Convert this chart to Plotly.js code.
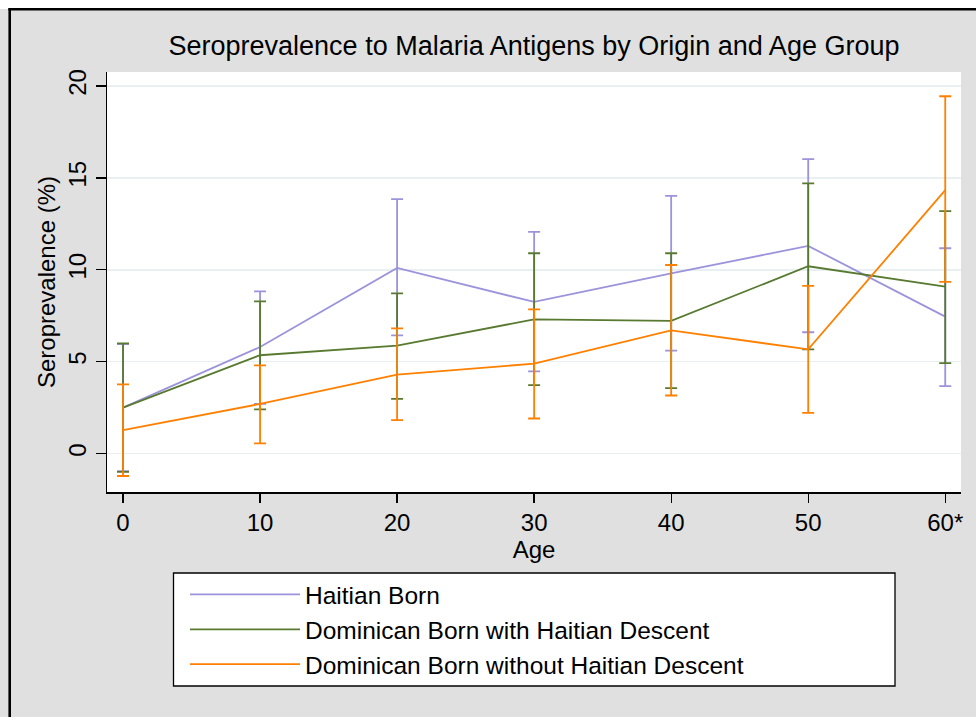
<!DOCTYPE html>
<html>
<head>
<meta charset="utf-8">
<script src="https://cdn.plot.ly/plotly-3.0.1.min.js"></script>
<style>html,body{margin:0;padding:0;background:#fff;}#chart{width:976px;height:717px;}</style>
</head>
<body>
<div id="chart"></div>
<script>
// ---- data ----
const ages = [0, 10, 20, 30, 40, 50, 60];
const ageTickText = ["0", "10", "20", "30", "40", "50", "60*"];
const seriesNames = ["Haitian Born", "Dominican Born with Haitian Descent", "Dominican Born without Haitian Descent"];
const seriesColors = ["#9b93dc", "#587a30", "#ff8000"];

const haitianBorn      = [2.5, 5.8, 10.1, 8.25, 9.8, 11.3, 7.45];
const haitianBornLow   = [-0.95, 2.7, 6.43, 4.47, 5.6, 6.6, 3.67];
const haitianBornHigh  = [5.95, 8.83, 13.84, 12.06, 14.02, 16.02, 11.17];

const domWithDesc      = [2.5, 5.35, 5.87, 7.3, 7.22, 10.19, 9.08];
const domWithDescLow   = [-1.0, 2.4, 2.98, 3.72, 3.56, 5.67, 4.92];
const domWithDescHigh  = [6.0, 8.28, 8.72, 10.9, 10.9, 14.7, 13.19];

const domWithoutDesc     = [1.28, 2.7, 4.3, 4.89, 6.7, 5.67, 14.33];
const domWithoutDescLow  = [-1.22, 0.56, 1.82, 1.91, 3.16, 2.22, 9.34];
const domWithoutDescHigh = [3.76, 4.8, 6.81, 7.85, 10.26, 9.12, 19.44];

const centers = [haitianBorn, domWithDesc, domWithoutDesc];
const lows = [haitianBornLow, domWithDescLow, domWithoutDescLow];
const highs = [haitianBornHigh, domWithDescHigh, domWithoutDescHigh];

const FONT = "Liberation Sans, Arial, sans-serif";

const traces = centers.map((c, i) => ({
  type: "scatter",
  mode: "lines",
  name: seriesNames[i],
  x: ages,
  y: c,
  line: {color: seriesColors[i], width: 1.8},
  error_y: {
    type: "data",
    symmetric: false,
    array: highs[i].map((h, k) => h - c[k]),
    arrayminus: c.map((v, k) => v - lows[i][k]),
    color: seriesColors[i],
    thickness: 1.8,
    width: 6
  }
}));

// pixel -> paper helpers for layout decorations
const L = 107, R = 15, T = 72, B = 225, W = 976, H = 717;
const pw = W - L - R, ph = H - T - B;
const px = v => (v - L) / pw;
const py = v => (H - B - v) / ph;

const layout = {
  width: W, height: H,
  margin: {l: L, r: R, t: T, b: B},
  paper_bgcolor: "#e0e0e0",
  plot_bgcolor: "#ffffff",
  font: {family: FONT, size: 24, color: "#000"},
  title: {
    text: "Seroprevalence to Malaria Antigens by Origin and Age Group",
    font: {family: FONT, size: 27, color: "#000"},
    x: 0.5, xref: "paper", xanchor: "center",
    y: 1 - 46 / H, yref: "container", yanchor: "middle"
  },
  xaxis: {
    range: [-1.17, 61.15],
    tickvals: ages,
    ticktext: ageTickText,
    ticks: "outside", ticklen: 9, tickwidth: 1.3, tickcolor: "#000",
    showline: true, linecolor: "#000", linewidth: 1.5,
    showgrid: false, zeroline: false,
    tickfont: {family: FONT, size: 24},
    title: {text: "Age", font: {family: FONT, size: 24}, standoff: 0}
  },
  yaxis: {
    range: [-2.09, 20.76],
    tickvals: [0, 5, 10, 15, 20],
    tickangle: -90,
    ticks: "outside", ticklen: 10, tickwidth: 1.3, tickcolor: "#000",
    showline: true, linecolor: "#000", linewidth: 1.5,
    showgrid: true, gridcolor: "#e9f0f1", gridwidth: 1.6,
    zeroline: false,
    tickfont: {family: FONT, size: 24},
    title: {text: "Seroprevalence (%)", font: {family: FONT, size: 24}, standoff: 1}
  },
  showlegend: true,
  legend: {
    x: px(185), y: py(572), xanchor: "left", yanchor: "top",
    bgcolor: "rgba(0,0,0,0)", borderwidth: 0,
    font: {family: FONT, size: 24.5},
    itemwidth: 110,
    tracegroupgap: 0,
    traceorder: "normal"
  },
  shapes: [
    // white strip above the frame
    {type: "rect", xref: "paper", yref: "paper", x0: px(-5), x1: px(990), y0: py(9), y1: py(-5),
     fillcolor: "#ffffff", line: {width: 0}, layer: "below"},
    // outer frame lines
    {type: "line", xref: "paper", yref: "paper", x0: px(9.7), x1: px(9.7), y0: py(8.3), y1: py(730),
     line: {color: "#000", width: 2.6}, layer: "above"},
    {type: "line", xref: "paper", yref: "paper", x0: px(8.4), x1: px(990), y0: py(9.3), y1: py(9.3),
     line: {color: "#000", width: 2.6}, layer: "above"},
    // legend box
    {type: "rect", xref: "paper", yref: "paper", x0: px(173.5), x1: px(895), y0: py(573), y1: py(686),
     fillcolor: "#ffffff", line: {color: "#000", width: 1.3}, layer: "below"}
  ]
};

Plotly.newPlot("chart", traces, layout, {displayModeBar: false, staticPlot: true});
</script>
</body>
</html>
